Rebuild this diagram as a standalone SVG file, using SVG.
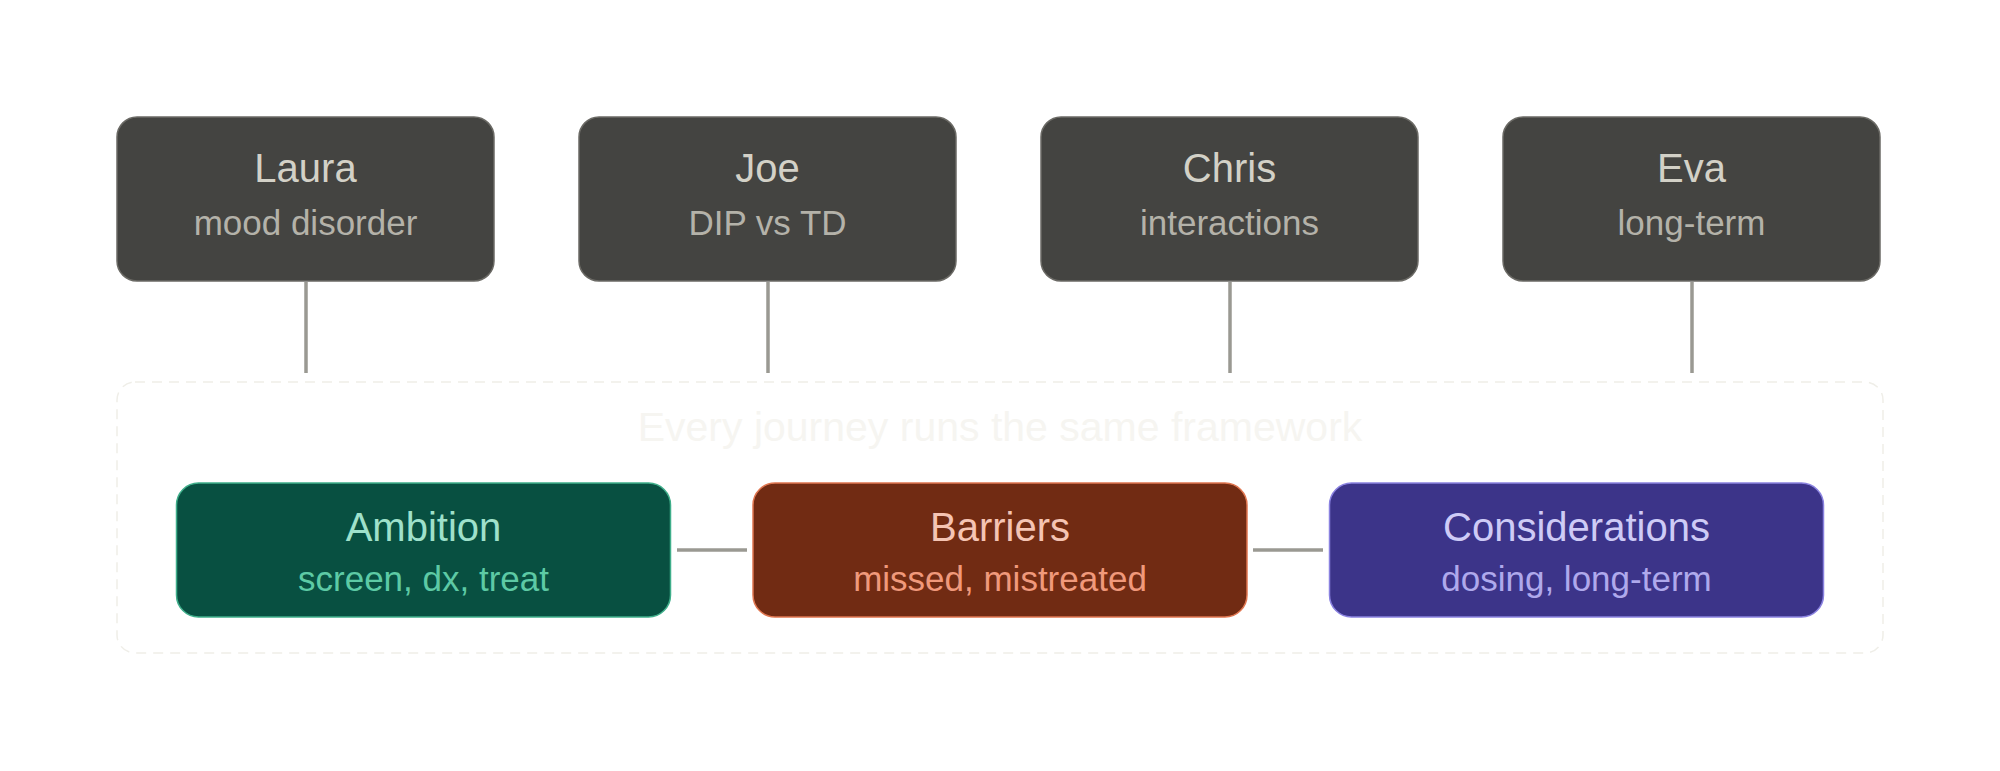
<svg xmlns="http://www.w3.org/2000/svg" width="2000" height="771" viewBox="0 0 2000 771">
<style>
text{font-family:"Liberation Sans",Arial,Helvetica,sans-serif;text-anchor:middle}
.t{font-size:40px}
.s{font-size:35px}
.p rect{fill:#444441;stroke:#6b6a65;stroke-width:1.5}
.p .t{fill:#d3d1c7}
.p .s{fill:#b4b2a9}
.conn line{stroke:#9a9992;stroke-width:3.5;fill:none}
#ambition rect{fill:#085041;stroke:#3fae8a;stroke-width:1.5}
#ambition .t{fill:#9fe1cb}
#ambition .s{fill:#5dcaa5}
#barriers rect{fill:#712b13;stroke:#e07650;stroke-width:1.5}
#barriers .t{fill:#f5c4b3}
#barriers .s{fill:#f0997b}
#considerations rect{fill:#3c3489;stroke:#8a82e0;stroke-width:1.5}
#considerations .t{fill:#cecbf6}
#considerations .s{fill:#afa9ec}
</style>
<rect width="2000" height="771" fill="#ffffff"/>
<g id="framework">
<rect x="117" y="382" width="1766" height="271" rx="18" fill="none" stroke="#efeee8" stroke-width="1.5" stroke-dasharray="10 7"/>
<text x="1000" y="441" style="font-size:41px" fill="#f6f5f1">Every journey runs the same framework</text>
</g>
<g class="conn" id="connectors">
<line x1="306" y1="282" x2="306" y2="373"/>
<line x1="768" y1="282" x2="768" y2="373"/>
<line x1="1230" y1="282" x2="1230" y2="373"/>
<line x1="1692" y1="282" x2="1692" y2="373"/>
<line x1="677" y1="550" x2="747" y2="550"/>
<line x1="1253" y1="550" x2="1323" y2="550"/>
</g>
<g id="laura" class="p">
<rect x="117" y="117" width="377" height="164" rx="20"/>
<text class="t" x="305.5" y="182">Laura</text>
<text class="s" x="305.5" y="235">mood disorder</text>
</g>
<g id="joe" class="p">
<rect x="579" y="117" width="377" height="164" rx="20"/>
<text class="t" x="767.5" y="182">Joe</text>
<text class="s" x="767.5" y="235">DIP vs TD</text>
</g>
<g id="chris" class="p">
<rect x="1041" y="117" width="377" height="164" rx="20"/>
<text class="t" x="1229.5" y="182">Chris</text>
<text class="s" x="1229.5" y="235">interactions</text>
</g>
<g id="eva" class="p">
<rect x="1503" y="117" width="377" height="164" rx="20"/>
<text class="t" x="1691.5" y="182">Eva</text>
<text class="s" x="1691.5" y="235">long-term</text>
</g>
<g id="ambition">
<rect x="176.5" y="483" width="494" height="134" rx="22"/>
<text class="t" x="423.5" y="541">Ambition</text>
<text class="s" x="423.5" y="591">screen, dx, treat</text>
</g>
<g id="barriers">
<rect x="753" y="483" width="494" height="134" rx="22"/>
<text class="t" x="1000" y="541">Barriers</text>
<text class="s" x="1000" y="591">missed, mistreated</text>
</g>
<g id="considerations">
<rect x="1329.5" y="483" width="494" height="134" rx="22"/>
<text class="t" x="1576.5" y="541">Considerations</text>
<text class="s" x="1576.5" y="591">dosing, long-term</text>
</g>
</svg>
